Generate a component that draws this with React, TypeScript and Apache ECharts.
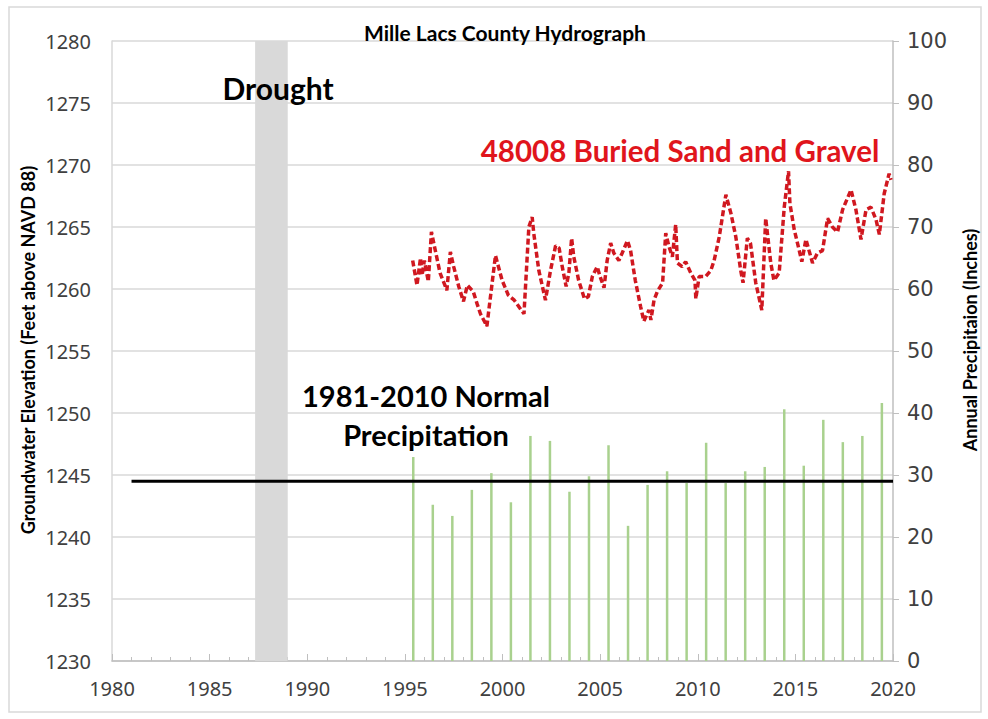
import React, { useEffect, useRef } from "react";
import * as echarts from "echarts";

const chartTitle = "Mille Lacs County Hydrograph";
const leftAxisTitle = "Groundwater Elevation (Feet above NAVD 88)";
const rightAxisTitle = "Annual Precipitaion (Inches)";
const wellLabel = "48008 Buried Sand and Gravel";
const droughtLabel = "Drought";
const normalLabel = ["1981-2010 Normal", "Precipitation"];

const droughtStart = 1987.33;
const droughtEnd = 1989.0;

const normalPrecip = 29;
const normalStart = 1981;
const normalEnd = 2020;

const gwDates = [
  1995.4, 1995.62, 1995.8, 1995.88, 1996.0, 1996.2, 1996.36, 1996.56, 1996.8, 1997.15,
  1997.33, 1997.5, 1997.76, 1998.0, 1998.2, 1998.5, 1998.7, 1998.87, 1999.2, 1999.64,
  1999.98, 2000.3, 2000.6, 2001.1, 2001.35, 2001.52, 2001.6, 2001.86, 2002.2, 2002.46,
  2002.72, 2002.9, 2003.06, 2003.26, 2003.4, 2003.54, 2003.65, 2003.9, 2004.2, 2004.4,
  2004.6, 2004.85, 2005.0, 2005.2, 2005.36, 2005.54, 2005.7, 2005.96, 2006.13, 2006.4,
  2006.56, 2006.8, 2007.07, 2007.24, 2007.5, 2007.6, 2007.76, 2007.93, 2008.2, 2008.36,
  2008.53, 2008.7, 2008.87, 2008.96, 2009.2, 2009.38, 2009.64, 2009.86, 2009.9, 2010.07,
  2010.4, 2010.67, 2010.84, 2011.1, 2011.44, 2011.7, 2011.95, 2012.2, 2012.32, 2012.54,
  2012.7, 2012.97, 2013.28, 2013.48, 2013.74, 2013.9, 2014.17, 2014.43, 2014.65, 2014.72,
  2014.94, 2015.2, 2015.33, 2015.54, 2015.7, 2015.88, 2016.13, 2016.39, 2016.65, 2016.9,
  2017.16, 2017.42, 2017.85, 2018.1, 2018.36, 2018.62, 2018.87, 2019.13, 2019.3, 2019.55,
  2019.8, 2019.9,
];

const gwLevels = [
  1262.3, 1260.3, 1262.5, 1261.1, 1262.3, 1260.6, 1264.6, 1263.1, 1261.3, 1259.9,
  1263.0, 1261.8, 1260.2, 1259.0, 1260.3, 1259.8, 1258.8, 1258.0, 1257.0, 1262.7,
  1260.7, 1259.5, 1259.1, 1258.0, 1265.0, 1265.8, 1264.5, 1261.5, 1259.1, 1261.5,
  1263.5, 1263.3, 1261.8, 1260.2, 1261.3, 1264.1, 1262.6, 1260.7, 1259.2, 1259.4,
  1261.0, 1261.8, 1261.0, 1260.1, 1262.3, 1263.7, 1262.9, 1262.3, 1262.9, 1263.9,
  1263.1, 1260.7, 1258.6, 1257.4, 1258.3, 1257.5, 1259.1, 1259.8, 1260.5, 1264.5,
  1263.4, 1262.6, 1265.2, 1262.1, 1261.8, 1262.2, 1261.3, 1260.7, 1259.2, 1261.0,
  1261.0, 1261.5, 1262.3, 1264.2, 1267.6, 1266.1, 1264.2, 1261.5, 1260.5, 1264.1,
  1263.7, 1260.5, 1258.3, 1265.7, 1262.1, 1260.7, 1261.3, 1266.6, 1269.5, 1266.9,
  1264.8, 1263.1, 1262.2, 1264.0, 1263.1, 1262.1, 1262.9, 1263.1, 1265.7, 1265.0,
  1264.6, 1266.4, 1268.0, 1266.4, 1264.0, 1266.4, 1266.6, 1265.6, 1264.4, 1267.7,
  1269.3, 1268.8,
];

const precipYears = [
  1995, 1996, 1997, 1998, 1999, 2000, 2001, 2002, 2003, 2004, 2005, 2006, 2007,
  2008, 2009, 2010, 2011, 2012, 2013, 2014, 2015, 2016, 2017, 2018, 2019,
];
const precipValues = [
  32.9, 25.2, 23.4, 27.6, 30.3, 25.6, 36.3, 35.5, 27.3, 29.8, 34.8, 21.8, 28.4,
  30.6, 28.7, 35.2, 28.7, 30.6, 31.3, 40.6, 31.5, 38.9, 35.3, 36.3, 41.6,
];
const precipDateOffset = 0.43;

export default function App() {
  const ref = useRef<HTMLDivElement>(null);

  useEffect(() => {
    document.body.style.margin = "0";
    if (!ref.current) return;
    const chart = echarts.init(ref.current, null, { renderer: "svg" });

    const labelFont = "Noto Sans";
    const boldFont = "Lato";

    const boldText = (text: string, x: number, y: number, size: number, fill = "#000", rotation = 0) => ({
      type: "text",
      x,
      y,
      rotation,
      z: 100,
      silent: true,
      style: {
        text,
        fontFamily: boldFont,
        fontWeight: "bold",
        fontSize: size,
        fill,
        textAlign: "center",
        textVerticalAlign: "middle",
      },
    });

    chart.setOption({
      animation: false,
      backgroundColor: "#ffffff",
      grid: { left: 112, right: 95, top: 41, bottom: 58, containLabel: false },
      xAxis: {
        type: "value",
        min: 1980,
        max: 2020,
        interval: 5,
        axisLine: { show: true, lineStyle: { color: "#bfbfbf", width: 1.5 } },
        axisTick: { show: true, inside: true, length: 7, lineStyle: { color: "#bfbfbf" } },
        minorTick: { show: true, splitNumber: 5, length: 4, lineStyle: { color: "#bfbfbf" } },
        splitLine: { show: false },
        axisLabel: {
          color: "#404040",
          fontFamily: labelFont,
          fontSize: 20,
          margin: 17,
          formatter: (v: number) => String(v),
        },
      },
      yAxis: [
        {
          type: "value",
          min: 1230,
          max: 1280,
          interval: 5,
          position: "left",
          axisLine: { show: true, lineStyle: { color: "#d9d9d9", width: 1.5 } },
          axisTick: { show: false },
          splitLine: { show: true, lineStyle: { color: "#d9d9d9", width: 1.5 } },
          axisLabel: {
            color: "#404040",
            fontFamily: labelFont,
            fontSize: 20,
            margin: 21,
            formatter: (v: number) => String(v),
          },
        },
        {
          type: "value",
          min: 0,
          max: 100,
          interval: 10,
          position: "right",
          axisLine: { show: true, lineStyle: { color: "#bfbfbf", width: 1.5 } },
          axisTick: { show: true, length: 6, lineStyle: { color: "#bfbfbf" } },
          splitLine: { show: false },
          axisLabel: { color: "#404040", fontFamily: "DejaVu Sans", fontSize: 21, margin: 14 },
        },
      ],
      series: [
        {
          type: "bar",
          name: "Precipitation",
          xAxisIndex: 0,
          yAxisIndex: 1,
          barWidth: 2.5,
          itemStyle: { color: "#a9d18e" },
          data: precipYears.map((y, i) => [y + precipDateOffset, precipValues[i]]),
          markArea: {
            silent: true,
            itemStyle: { color: "#d9d9d9" },
            data: [[{ xAxis: droughtStart }, { xAxis: droughtEnd }]],
          },
          z: 2,
        },
        {
          type: "line",
          name: "Normal",
          yAxisIndex: 1,
          showSymbol: false,
          lineStyle: { color: "#000000", width: 3 },
          data: [
            [normalStart, normalPrecip],
            [normalEnd, normalPrecip],
          ],
          z: 3,
        },
        {
          type: "line",
          name: "48008",
          yAxisIndex: 0,
          showSymbol: false,
          lineStyle: { color: "#d01820", width: 3.5, type: [6, 3] },
          data: gwDates.map((d, i) => [d, gwLevels[i]]),
          z: 4,
        },
      ],
      graphic: [
        {
          type: "rect",
          shape: { x: 9, y: 7, width: 972, height: 705 },
          style: { fill: "none", stroke: "#d9d9d9", lineWidth: 1.5 },
          silent: true,
        },
        boldText(chartTitle, 505, 32, 21),
        boldText(droughtLabel, 278, 88, 30),
        boldText(wellLabel, 680, 150, 29.5, "#e0151c"),
        boldText(normalLabel[0], 426, 395, 29),
        boldText(normalLabel[1], 426, 434, 29),
        boldText(leftAxisTitle, 28, 350, 18, "#000", Math.PI / 2),
        boldText(rightAxisTitle, 970, 340, 18, "#000", Math.PI / 2),
      ],
    });

    return () => chart.dispose();
  }, []);

  return <div ref={ref} style={{ width: 988, height: 719 }} />;
}
